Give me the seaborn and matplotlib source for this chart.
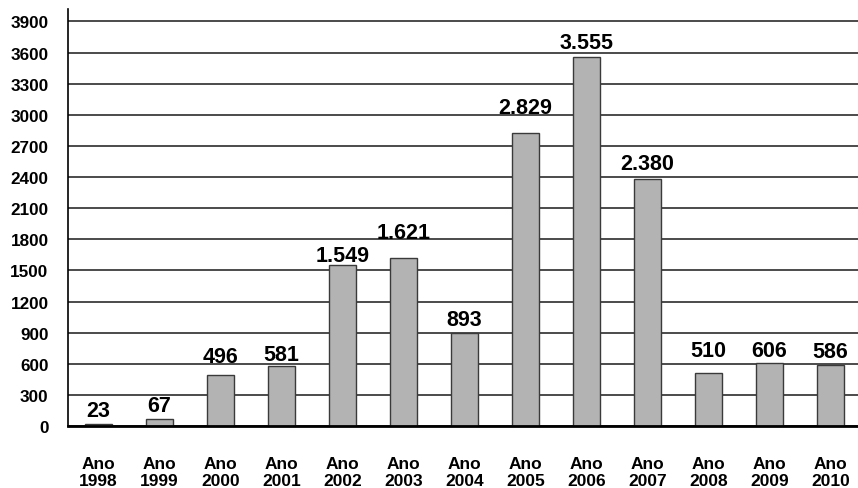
import matplotlib
matplotlib.use("Agg")
import matplotlib.pyplot as plt
import seaborn as sns
import numpy as np
import pandas as pd

# dados
anos = ["1998", "1999", "2000", "2001", "2002", "2003", "2004",
        "2005", "2006", "2007", "2008", "2009", "2010"]
valores = [23, 67, 496, 581, 1549, 1621, 893, 2829, 3555, 2380, 510, 606, 586]
yticks = list(range(0, 3901, 300))

# distância (px) entre o rótulo e o topo da barra, como no original
folga_px = [8, 8, 13, 6, 4, 20, 8, 20, 9, 10, 17, 7, 8]

sns.set_style("white")
plt.rcParams['font.family'] = ['Liberation Sans', 'DejaVu Sans']
plt.rcParams['font.weight'] = 'bold'
plt.rcParams['text.color'] = 'black'
plt.rcParams['xtick.color'] = 'black'
plt.rcParams['ytick.color'] = 'black'
plt.rcParams['xtick.labelcolor'] = 'black'
plt.rcParams['ytick.labelcolor'] = 'black'

df = pd.DataFrame({"ano": ["Ano\n" + a for a in anos], "valor": valores})

fig = plt.figure(figsize=(8.58, 4.89), dpi=100)
ax = fig.add_axes([68 / 858, 1 - 427 / 489, 793 / 858, 417 / 489])

sns.barplot(data=df, x="ano", y="valor", color="#b3b3b3", saturation=1,
            width=0.45, edgecolor="#3a3a3a", linewidth=1, ax=ax, zorder=3)

ax.set_ylim(0, 4020)
ax.set_xlim(-0.5, len(anos) - 0.5)
ax.set_yticks(yticks)
ax.set_yticklabels([str(t) for t in yticks], fontsize=12.3, fontweight='bold')
ax.yaxis.grid(True, color="#1a1a1a", linewidth=1.1, zorder=0)
ax.set_axisbelow(True)

# rótulos do eixo x e ticks nas divisões
ax.set_xticks(range(len(anos)))
ax.set_xticklabels(df["ano"], fontsize=12.5, fontweight='bold', linespacing=1.2)
ax.tick_params(axis='x', which='major', length=0, pad=21.5)
ax.set_xticks(np.arange(0.5, len(anos) - 0.5, 1), minor=True)
ax.tick_params(axis='x', which='minor', length=6, width=1.2, color='black', direction='out')
ax.tick_params(axis='y', length=6, width=1, color='black', direction='out', pad=8)

ax.set_xlabel("")
ax.set_ylabel("")
sns.despine(ax=ax, top=True, right=True)
ax.spines['left'].set_color('black')
ax.spines['left'].set_linewidth(1.2)
ax.spines['bottom'].set_color('black')
ax.spines['bottom'].set_linewidth(2)
ax.spines['bottom'].set_zorder(5)

for i, v in enumerate(valores):
    txt = f"{v:,}".replace(",", ".")
    ax.annotate(txt, (i, v), xytext=(0, folga_px[i] * 0.72), textcoords='offset points',
                ha='center', va='baseline', fontsize=15.5, fontweight='bold',
                color='black')

fig.savefig("out.png", dpi=100)
